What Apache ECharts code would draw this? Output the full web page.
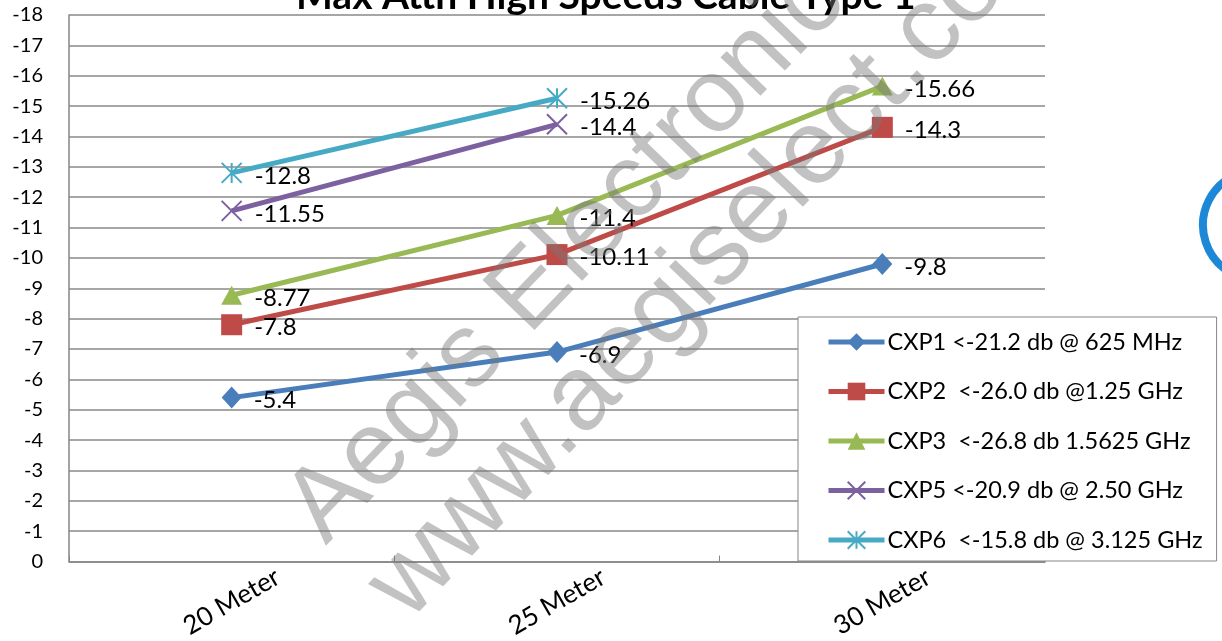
<!DOCTYPE html>
<html><head><meta charset="utf-8">
<script src="https://cdn.jsdelivr.net/npm/echarts@6/dist/echarts.min.js"></script>
<style>html,body{margin:0;padding:0;background:#fff}#c{width:1222px;height:641px}</style>
</head><body><div id="c"></div>
<script>
const titleText = 'Max Attn High Speeds Cable Type 1';
const categories = ['20 Meter', '25 Meter', '30 Meter'];
const cxp1 = [-5.4, -6.9, -9.8];
const cxp2 = [-7.8, -10.11, -14.3];
const cxp3 = [-8.77, -11.4, -15.66];
const cxp5 = [-11.55, -14.4, null];
const cxp6 = [-12.8, -15.26, null];
const seriesNames = [
  'CXP1 <-21.2 db @ 625 MHz',
  'CXP2  <-26.0 db @1.25 GHz',
  'CXP3  <-26.8 db 1.5625 GHz',
  'CXP5 <-20.9 db @ 2.50 GHz',
  'CXP6  <-15.8 db @ 3.125 GHz'
];
const watermark1 = 'Aegis Electronic Group';
const watermark2 = 'www.aegiselect.com';
const yMin = -18, yMax = 0, yStep = 1;

const colors = ['#4A7EBB', '#BE4B48', '#98B954', '#7D60A0', '#46AAC5'];
const FONT = 'Lato';
const crossPath = 'path://M0,0 L20,20 M20,0 L0,20';
const starPath = 'path://M10,0 L10,20 M0,0 L20,20 M20,0 L0,20';

function mk(name, data, color, symbol, size, stroke) {
  const s = {
    name: name, type: 'line', data: data, color: color,
    symbol: symbol, symbolSize: size, showAllSymbol: true,
    lineStyle: { width: 5, color: color },
    itemStyle: { color: color },
    label: { show: true, position: 'right', distance: 12, offset: [0, 3], color: '#000', fontSize: 24, fontFamily: FONT },
    emphasis: { disabled: true },
    animation: false
  };
  if (stroke) {
    s.itemStyle = { color: 'rgba(0,0,0,0)', borderColor: color, borderWidth: 2 };
  }
  return s;
}

const chart = echarts.init(document.getElementById('c'), null, { renderer: 'canvas' });
chart.setOption({
  animation: false,
  backgroundColor: '#fff',
  title: {
    text: titleText, left: 291, top: -28,
    textStyle: { fontFamily: FONT, fontWeight: 'bold', fontSize: 39, color: '#000' }
  },
  grid: { left: 69, right: 177, top: 15, bottom: 79, containLabel: false },
  legend: {
    orient: 'vertical', left: 798, top: 317,
    padding: [13, 14, 9, 28],
    itemWidth: 56, itemHeight: 22, itemGap: 25.5,
    backgroundColor: '#fff',
    borderColor: '#868686', borderWidth: 1, borderRadius: 0,
    lineStyle: { width: 5 },
    textStyle: { fontFamily: FONT, fontSize: 23.5, color: '#000', padding: [0, 0, 0, -2] },
    data: seriesNames
  },
  xAxis: {
    type: 'category', data: categories, boundaryGap: true,
    axisLine: { lineStyle: { color: '#868686', width: 1.5 } },
    axisTick: { show: true, inside: true, length: 6, lineStyle: { color: '#868686' } },
    axisLabel: { rotate: 30, align: 'center', verticalAlign: 'middle', margin: 40, fontFamily: FONT, fontSize: 26, color: '#000' },
    splitLine: { show: false }
  },
  yAxis: {
    type: 'value', inverse: true, min: yMin, max: yMax, interval: yStep,
    axisLine: { show: true, lineStyle: { color: '#868686', width: 1.5 } },
    axisTick: { show: false },
    axisLabel: { margin: 26, fontFamily: FONT, fontSize: 20, color: '#000' },
    splitLine: { show: true, lineStyle: { color: '#888888', width: 1.5 } }
  },
  series: [
    mk(seriesNames[0], cxp1, colors[0], 'diamond', [20, 22], false),
    mk(seriesNames[1], cxp2, colors[1], 'rect', 21, false),
    mk(seriesNames[2], cxp3, colors[2], 'triangle', [21, 19], false),
    mk(seriesNames[3], cxp5, colors[3], crossPath, 20, true),
    mk(seriesNames[4], cxp6, colors[4], starPath, 20, true)
  ],
  graphic: [
    { type: 'arc', shape: { cx: 1258, cy: 225, r: 55, startAngle: Math.PI * 0.65, endAngle: Math.PI * 1.3 },
      style: { stroke: '#1E88D8', lineWidth: 8, fill: null }, z: 1 },
    { type: 'text', x: 305, y: 526, rotation: 46 * Math.PI / 180, z: 100, silent: true,
      style: { text: watermark1, font: '105px "Liberation Sans"', fill: 'rgba(120,120,120,0.45)', textAlign: 'left', textVerticalAlign: 'middle' } },
    { type: 'text', x: 718, y: 254, rotation: 46.5 * Math.PI / 180, z: 100, silent: true,
      style: { text: watermark2, font: '106px "Liberation Sans"', fill: 'rgba(120,120,120,0.45)', textAlign: 'center', textVerticalAlign: 'middle' } }
  ]
});
</script></body></html>
